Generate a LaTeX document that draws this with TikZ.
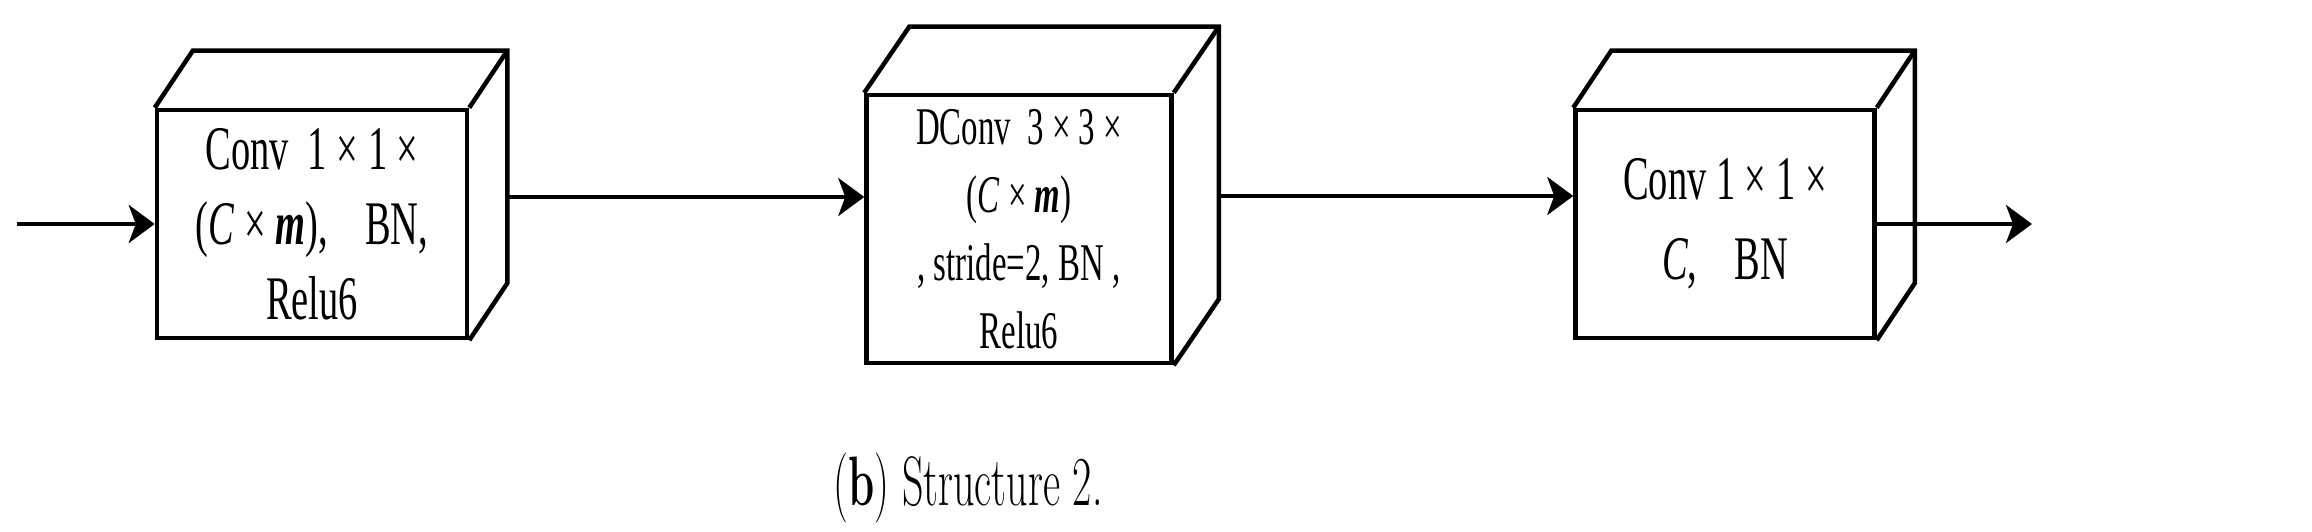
\documentclass[tikz,border=0pt]{standalone}
\usepackage{fontspec}
\usepackage{graphicx}
\usepackage{tikz}
\usetikzlibrary{arrows.meta, positioning, calc}
\newfontfamily\boxfont[FakeStretch=0.62]{Liberation Serif}
\newcommand{\Depth}[3]{%
    \draw[face] (#1.north west) -- ++(#2,-#3) -- ($(#1.north east)+(#2,-#3)$)
        -- ($(#1.south east)+(#2,-#3)$) -- (#1.south east);
    \draw[face] (#1.north east) -- ++(#2,-#3);
}
\tikzset{
    face/.style={draw, line width=4.5pt},
    block/.style={face, rectangle, inner sep=0pt, align=center,
        font=\boxfont\fontsize{62}{75}\selectfont},
    flow/.style={line width=4pt, -{Stealth[length=26pt, width=38pt, inset=7pt]}},
}

\begin{document}
\begin{tikzpicture}[x=1pt, y=-1pt]
    \useasboundingbox (0,0) rectangle (2312,532);

    \node[block, minimum width=310pt, minimum height=228pt] (b1) at (312,224)
        {Conv\ \ 1 × 1 ×\\(\textit{C} × \textbf{\textit{m}}),\hspace{0.6em}BN,\\Relu6};
    \Depth{b1}{38}{57}

    \node[block, minimum width=305pt, minimum height=268pt,
        font=\boxfont\fontsize{53}{68}\selectfont] (b2) at (1019,229)
        {DConv\ \ 3 × 3 ×\\(\textit{C} × \textbf{\textit{m}})\\, stride=2, BN\,,\\Relu6};
    \Depth{b2}{45}{66}

    \node[block, minimum width=299pt, minimum height=228pt,
        font=\boxfont\fontsize{62}{80}\selectfont] (b3) at (1725,224)
        {Conv 1 × 1 ×\\\textit{C},\hspace{0.6em}BN};
    \Depth{b3}{38}{57}

    % connectors
    \coordinate (in) at (17,224);
    \coordinate (o1) at ($(b1.east)+(38,-27)$);
    \coordinate (o2) at ($(b2.east)+(45,-33)$);
    \coordinate (out) at (2032,224);
    \draw[flow] (in) -- (in -| b1.west);
    \draw[flow] (o1) -- (o1 -| b2.west);
    \draw[flow] (o2) -- (o2 -| b3.west);
    \draw[flow] (b3.east) -- (out);

    \node[anchor=base, font=\fontsize{70}{80}\selectfont] (cap) at (968,505)
        {\scalebox{0.6}[1]{(\textbf{b}) Structure 2.}};
\end{tikzpicture}
\end{document}
